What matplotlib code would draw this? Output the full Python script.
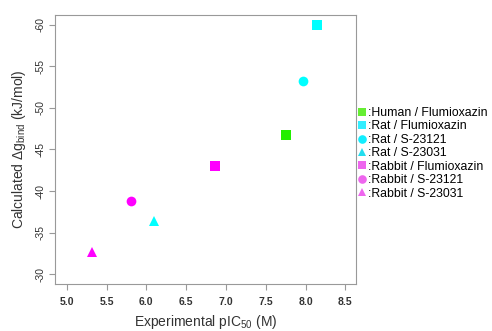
import matplotlib
matplotlib.use("Agg")
import matplotlib.pyplot as plt
from matplotlib.lines import Line2D

plt.rcParams['font.family'] = ['Liberation Sans', 'DejaVu Sans']
plt.rcParams['mathtext.fontset'] = 'custom'
plt.rcParams['mathtext.rm'] = 'Liberation Sans'
plt.rcParams['mathtext.it'] = 'Liberation Sans'

# values
labels = [":Human / Flumioxazin", ":Rat / Flumioxazin", ":Rat / S-23121", ":Rat / S-23031",
          ":Rabbit / Flumioxazin", ":Rabbit / S-23121", ":Rabbit / S-23031"]
exp_pic50 = [7.75, 8.15, 7.97, 6.10, 6.86, 5.81, 5.32]
dg_bind = [-46.7, -60.0, -53.3, -36.4, -43.0, -38.8, -32.6]
colors = ["#22ee00", "#00ffff", "#00ffff", "#00ffff", "#ff00ff", "#ff00ff", "#ff00ff"]
legend_colors = ["#66ee33", "#33eeff", "#11eeff", "#22ddee", "#ee66ee", "#ee66ee", "#ee66ee"]
markers = ["s", "s", "o", "^", "s", "o", "^"]
sizes = [6.5, 6.5, 7, 7, 6.5, 7, 7]
xticks = [5.0, 5.5, 6.0, 6.5, 7.0, 7.5, 8.0, 8.5]
yticks = [-60, -55, -50, -45, -40, -35, -30]

fig = plt.figure(figsize=(4.92, 3.31), dpi=100)
ax = fig.add_axes([0.1118, 0.1435, 0.6118, 0.8112])

for x, y, c, m, s in zip(exp_pic50, dg_bind, colors, markers, sizes):
    ax.plot(x, y, linestyle="none", marker=m, markersize=s, color=c, markeredgewidth=0)

ax.set_xlim(4.853, 8.634)
ax.set_ylim(-28.86, -61.2)
ax.set_xticks(xticks)
ax.set_xticklabels(["%.1f" % t for t in xticks], fontsize=7.5, fontweight="bold")
ax.set_yticks(yticks)
ax.set_yticklabels([str(t) for t in yticks], fontsize=7.5, rotation=90, va="center")

for sp in ax.spines.values():
    sp.set_color("#999999")
ax.tick_params(colors="#999999", length=4, width=0.8, labelcolor="#333333")
ax.tick_params(axis="x", pad=6)
ax.tick_params(axis="y", pad=3)

ax.set_xlabel(r"Experimental pIC$_{50}$ (M)", fontsize=10, color="#333333", labelpad=4)
ax.set_ylabel(r"Calculated $\Delta$g$_{\mathrm{bind}}$ (kJ/mol)", fontsize=10, color="#333333", labelpad=5)

handles = [Line2D([], [], linestyle="none", marker=m, markersize=s - 0.8, color=c, markeredgewidth=0)
           for m, s, c in zip(markers, sizes, legend_colors)]
ax.legend(handles, labels, loc="center left", bbox_to_anchor=(1.0, 0.485), frameon=False,
          fontsize=8.8, handlelength=0.7, handletextpad=0.2, borderaxespad=0.1,
          labelspacing=0.12, borderpad=0)

fig.savefig("out.png", dpi=100)
